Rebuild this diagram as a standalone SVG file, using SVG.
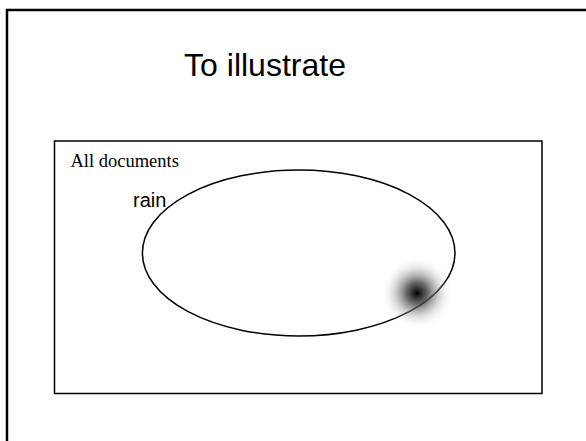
<svg xmlns="http://www.w3.org/2000/svg" width="586" height="441" viewBox="0 0 586 441">
  <defs>
    <radialGradient id="spot" cx="0.5" cy="0.5" r="0.5">
      <stop offset="0" stop-color="#000" stop-opacity="1"/>
      <stop offset="0.3" stop-color="#444" stop-opacity="0.8"/>
      <stop offset="0.65" stop-color="#999" stop-opacity="0.35"/>
      <stop offset="1" stop-color="#fff" stop-opacity="0"/>
    </radialGradient>
    <style>
      .frame { fill: #fff; stroke: #000; stroke-width: 2.5; }
      .box { fill: none; stroke: #000; stroke-width: 1.5; }
      .sans { font-family: "Liberation Sans", Arial, sans-serif; fill: #000; }
      .serif { font-family: "Liberation Serif", "Times New Roman", serif; fill: #000; }
    </style>
  </defs>
  <rect width="586" height="441" fill="#fff"/>
  <!-- slide frame -->
  <rect class="frame" x="7" y="10" width="600" height="450"/>
  <text class="sans" x="265" y="76" font-size="32" text-anchor="middle">To illustrate</text>

  <!-- universe of documents -->
  <g id="all-documents">
    <rect class="box" x="54.5" y="141" width="487.5" height="252.5"/>
    <text class="serif" x="70.5" y="167" font-size="18.5">All documents</text>
  </g>

  <!-- set of documents containing "rain" -->
  <g id="rain">
    <ellipse class="box" cx="298.7" cy="253" rx="156.3" ry="83"/>
    <text class="sans" x="133" y="207" font-size="20">rain</text>
  </g>

  <!-- fuzzy spot on the boundary -->
  <g id="spot-point">
    <circle cx="417" cy="293" r="36" fill="url(#spot)"/>
  </g>
</svg>
